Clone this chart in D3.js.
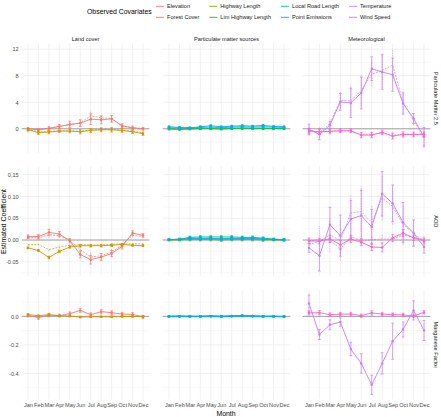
<!DOCTYPE html>
<html>
<head>
<meta charset="utf-8">
<script src="https://cdn.jsdelivr.net/npm/d3@7"></script>
<style>
  body { margin: 0; background: #fff; }
  svg { display: block; font-family: "Liberation Sans", Arial, sans-serif; }
</style>
</head>
<body>
<svg id="chart" width="441" height="417"></svg>
<script>
// ---- data ----
const months = ["Jan","Feb","Mar","Apr","May","Jun","Jul","Aug","Sep","Oct","Nov","Dec"];
const columns = ["Land cover", "Particulate matter sources", "Meteorological"];
const rows = ["Particulate Matter 2.5", "AOD", "Manganese Factor"];
const covariates = ["Elevation","Forest Cover","Highway Length","Lim Highway Length",
                    "Local Road Length","Point Emissions","Temperature","Wind Speed"];
const covColors = ["#F8766D","#CD9600","#7CAE00","#00BE67","#00BFC4","#00A9FF","#C77CFF","#FF61CC"];
const covColumn = [0, 0, 1, 1, 1, 1, 2, 2];

const yTicks = [[0, 4, 8, 12], [-0.05, 0, 0.05, 0.10, 0.15], [-0.4, -0.2, 0.0]];
const yTickLabels = [["0","4","8","12"], ["-0.05","0.00","0.05","0.10","0.15"], ["-0.4","-0.2","0.0"]];

// Particulate Matter 2.5
const pmElevation     = [0, -0.15, 0.05, 0.35, 0.65, 0.85, 1.45, 1.35, 1.5, 0.45, 0.15, 0];
const pmElevationErr  = [0.2, 0.2, 0.25, 0.3, 0.5, 0.5, 0.8, 0.6, 0.5, 0.3, 0.25, 0.2];
const pmElevationAlt  = [0.05, -0.1, 0.1, 0.4, 0.6, 0.9, 1.95, 1.65, 1.55, 0.4, 0.15, 0];
const pmForest        = [-0.15, -0.6, -0.5, -0.35, -0.35, -0.45, -0.25, -0.15, -0.15, -0.25, -0.45, -0.75];
const pmForestErr     = [0.2, 0.25, 0.25, 0.2, 0.25, 0.3, 0.3, 0.3, 0.35, 0.3, 0.25, 0.25];
const pmForestAlt     = [-0.1, -0.45, -0.4, -0.3, -0.3, -0.35, -0.2, -0.1, -0.1, -0.2, -0.35, -0.6];
const pmHighway       = [0.02, 0, 0.03, 0.05, 0.04, 0, 0.05, 0.08, 0.06, 0.05, 0.04, 0.03];
const pmLimHighway    = [-0.05, -0.1, -0.05, 0, 0.02, -0.05, 0.05, 0.1, 0.05, 0.08, 0.05, 0.02];
const pmLocalRoad     = [0.15, 0.1, 0.1, 0.2, 0.25, 0.15, 0.25, 0.3, 0.25, 0.3, 0.25, 0.2];
const pmPointEm       = [0.3, 0.2, 0.15, 0.3, 0.45, 0.3, 0.4, 0.45, 0.4, 0.5, 0.35, 0.3];
const pmSourceErr     = [0.12, 0.12, 0.1, 0.12, 0.15, 0.12, 0.12, 0.15, 0.12, 0.15, 0.12, 0.12];
const pmTemperature   = [-0.1, -0.85, 0.55, 4.05, 3.9, 5.4, 9.05, 8.55, 8.15, 3.8, 1.55, -1.2];
const pmTemperatureErr= [0.8, 0.8, 0.6, 1.25, 2.2, 2.4, 1.8, 2.6, 2.5, 1.6, 0.75, 1.4];
const pmTemperatureAlt= [-0.2, -0.6, 0.8, 4.3, 4.2, 5.8, 8.2, 8.8, 9.6, 4.0, 1.3, -1.5];
const pmWind          = [-0.35, -0.45, -0.4, -0.3, -0.3, -0.95, -0.95, -0.55, -1.1, -0.85, -0.85, -0.85];
const pmWindErr       = [0.35, 0.4, 0.35, 0.3, 0.3, 0.4, 0.4, 0.35, 0.45, 0.4, 0.35, 0.35];
const pmWindAlt       = [-0.3, -0.5, -0.35, -0.3, -0.35, -0.9, -0.85, -0.6, -1.0, -0.8, -0.85, -0.8];

// AOD
const aodElevation     = [0.0076, 0.008, 0.0175, 0.0137, -0.0015, -0.033, -0.045, -0.039, -0.031, -0.0145, 0.016, 0.0107];
const aodElevationErr  = [0.004, 0.005, 0.007, 0.006, 0.005, 0.008, 0.01, 0.008, 0.007, 0.006, 0.005, 0.004];
const aodElevationAlt  = [0.006, 0.0046, 0.012, 0.01, -0.001, -0.022, -0.039, -0.036, -0.028, -0.0107, 0.011, 0.008];
const aodForest        = [-0.018, -0.024, -0.04, -0.026, -0.016, -0.013, -0.013, -0.013, -0.012, -0.01, -0.012, -0.013];
const aodForestErr     = [0.002, 0.002, 0.003, 0.003, 0.003, 0.003, 0.003, 0.003, 0.003, 0.002, 0.002, 0.002];
const aodForestAlt     = [-0.011, -0.01, -0.022, -0.016, -0.012, -0.011, -0.011, -0.011, -0.01, -0.009, -0.009, -0.0085];
const aodHighway       = [0, 0, 0.001, 0.001, 0.001, 0, 0.001, 0.001, 0.001, 0, 0, 0];
const aodLimHighway    = [0.0005, 0.002, 0.006, 0.007, 0.007, 0.007, 0.007, 0.006, 0.006, 0.004, 0.002, 0.0005];
const aodLocalRoad     = [0.001, 0.002, 0.004, 0.004, 0.004, 0.003, 0.004, 0.004, 0.004, 0.003, 0.002, 0.001];
const aodPointEm       = [0.001, 0.001, 0.003, 0.003, 0.003, 0.002, 0.003, 0.003, 0.003, 0.002, 0.001, 0];
const aodSourceErr     = [0.002, 0.002, 0.003, 0.003, 0.003, 0.003, 0.003, 0.003, 0.003, 0.003, 0.002, 0.002];
const aodTemperature   = [-0.018, -0.036, 0.035, 0.01, 0.048, 0.056, 0.03, 0.106, 0.084, 0.04, 0.016, -0.016];
const aodTemperatureErr= [0.01, 0.035, 0.04, 0.047, 0.043, 0.058, 0.04, 0.051, 0.042, 0.046, 0.03, 0.014];
const aodTemperatureAlt= [-0.01, -0.003, 0.012, -0.001, 0.062, 0.065, 0.04, 0.096, 0.077, 0.035, 0.015, -0.003];
const aodWind          = [-0.0015, -0.003, 0.003, -0.011, 0.002, -0.005, -0.016, -0.017, 0.005, 0.016, 0.005, -0.0015];
const aodWindErr       = [0.006, 0.006, 0.008, 0.01, 0.008, 0.008, 0.008, 0.01, 0.008, 0.008, 0.006, 0.006];
const aodWindAlt       = [-0.003, 0.001, 0.001, -0.022, 0.008, -0.003, 0.001, 0.002, 0.002, 0.012, 0.006, 0.001];

// Manganese Factor
const mnElevation     = [0.007, -0.009, 0.009, 0.005, 0.019, 0.042, 0.012, 0.033, 0.026, 0.016, 0.014, -0.005];
const mnElevationErr  = [0.012, 0.012, 0.012, 0.01, 0.012, 0.014, 0.012, 0.014, 0.012, 0.012, 0.012, 0.01];
const mnForest        = [0.012, 0.005, 0.012, 0.005, 0.002, -0.005, -0.003, -0.003, -0.003, -0.001, -0.001, 0];
const mnForestErr     = [0.005, 0.005, 0.005, 0.005, 0.005, 0.005, 0.005, 0.005, 0.005, 0.005, 0.005, 0.005];
const mnHighway       = [0, 0, 0, 0, 0.001, 0, 0.001, 0.002, 0.001, 0, 0, 0];
const mnLimHighway    = [0, 0.001, 0, 0, 0.002, 0, 0.002, 0.004, 0.002, 0, 0, -0.001];
const mnLocalRoad     = [0, 0.002, 0, 0, 0.002, 0, 0.003, 0.005, 0.003, 0, 0.001, -0.002];
const mnPointEm       = [-0.001, 0.001, -0.001, 0, 0.001, -0.001, 0.002, 0.004, 0.002, -0.001, 0, -0.002];
const mnSourceErr     = [0.003, 0.003, 0.003, 0.003, 0.003, 0.003, 0.003, 0.004, 0.003, 0.003, 0.003, 0.003];
const mnTemperature   = [0.09, -0.127, -0.059, -0.04, -0.229, -0.33, -0.48, -0.33, -0.174, -0.092, 0.042, -0.099];
const mnTemperatureErr= [0.06, 0.035, 0.035, 0.03, 0.047, 0.068, 0.068, 0.075, 0.126, 0.053, 0.067, 0.07];
const mnWind          = [0.024, 0.026, 0.012, 0.016, 0.016, 0.005, 0.024, 0.016, 0.012, 0.01, 0.003, 0.028];
const mnWindErr       = [0.015, 0.015, 0.012, 0.012, 0.012, 0.012, 0.015, 0.012, 0.012, 0.012, 0.012, 0.012];

// one entry per drawn series: row, covariate index, estimate, error, optional dashed estimate
const series = [
  [0, 0, pmElevation, pmElevationErr, pmElevationAlt],
  [0, 1, pmForest, pmForestErr, pmForestAlt],
  [0, 2, pmHighway, pmSourceErr, null],
  [0, 3, pmLimHighway, pmSourceErr, null],
  [0, 4, pmLocalRoad, pmSourceErr, null],
  [0, 5, pmPointEm, pmSourceErr, null],
  [0, 6, pmTemperature, pmTemperatureErr, pmTemperatureAlt],
  [0, 7, pmWind, pmWindErr, pmWindAlt],
  [1, 0, aodElevation, aodElevationErr, aodElevationAlt],
  [1, 1, aodForest, aodForestErr, aodForestAlt],
  [1, 2, aodHighway, aodSourceErr, null],
  [1, 3, aodLimHighway, aodSourceErr, null],
  [1, 4, aodLocalRoad, aodSourceErr, null],
  [1, 5, aodPointEm, aodSourceErr, null],
  [1, 6, aodTemperature, aodTemperatureErr, aodTemperatureAlt],
  [1, 7, aodWind, aodWindErr, aodWindAlt],
  [2, 0, mnElevation, mnElevationErr, null],
  [2, 1, mnForest, mnForestErr, null],
  [2, 2, mnHighway, mnSourceErr, null],
  [2, 3, mnLimHighway, mnSourceErr, null],
  [2, 4, mnLocalRoad, mnSourceErr, null],
  [2, 5, mnPointEm, mnSourceErr, null],
  [2, 6, mnTemperature, mnTemperatureErr, null],
  [2, 7, mnWind, mnWindErr, null]
].map(([row, cov, est, err, alt]) => ({ row, cov, est, err, alt }));

// ---- layout ----
const panelW = 127.6, panelH = 109.5;
const panelX = [21.7, 162.7, 302.7];
const panelY = [43.5, 166.5, 290];

const svg = d3.select("#chart");

const x = d3.scalePoint().domain(months).range([0, panelW]).padding(0.6);

// one y scale per row (free y), ggplot-style 5% expansion
const yScales = rows.map((_, r) => {
  const vals = [0];
  series.filter(s => s.row === r).forEach(s => {
    [s.est, s.alt].forEach(a => {
      if (!a) return;
      a.forEach((v, i) => { vals.push(v - s.err[i], v + s.err[i]); });
    });
  });
  const [lo, hi] = d3.extent(vals);
  const pad = (hi - lo) * 0.05;
  return d3.scaleLinear().domain([lo - pad, hi + pad]).range([panelH, 0]);
});

const line = y => d3.line().x((d, i) => x(months[i])).y(d => y(d));

rows.forEach((rowName, r) => {
  const y = yScales[r];
  const major = yTicks[r];
  const step = major[1] - major[0];
  const minor = [];
  for (let v = major[0] - step / 2; v <= y.domain()[1]; v += step) {
    if (v >= y.domain()[0]) minor.push(v);
  }

  columns.forEach((colName, c) => {
    const g = svg.append("g").attr("transform", `translate(${panelX[c]},${panelY[r]})`);

    // grid
    g.selectAll(".minor").data(minor).join("line")
      .attr("x1", 0).attr("x2", panelW)
      .attr("y1", d => y(d)).attr("y2", d => y(d))
      .attr("stroke", "#EBEBEB").attr("stroke-width", 0.35);
    g.selectAll(".hmajor").data(major).join("line")
      .attr("x1", 0).attr("x2", panelW)
      .attr("y1", d => y(d)).attr("y2", d => y(d))
      .attr("stroke", "#EBEBEB").attr("stroke-width", 0.7);
    g.selectAll(".vmajor").data(months).join("line")
      .attr("x1", d => x(d)).attr("x2", d => x(d))
      .attr("y1", 0).attr("y2", panelH)
      .attr("stroke", "#EBEBEB").attr("stroke-width", 0.7);

    // zero reference
    g.append("line")
      .attr("x1", 0).attr("x2", panelW)
      .attr("y1", y(0)).attr("y2", y(0))
      .attr("stroke", "#858585").attr("stroke-width", 0.75);

    const cap = x.step() * 0.13;
    series.filter(s => s.row === r && covColumn[s.cov] === c).forEach(s => {
      const col = covColors[s.cov];
      const sg = g.append("g");

      if (s.alt) {
        sg.append("path").datum(s.alt)
          .attr("d", line(y)).attr("fill", "none")
          .attr("stroke", col).attr("stroke-width", 0.7)
          .attr("stroke-dasharray", "2,1.2");
        s.alt.forEach((v, i) => {
          const xx = x(months[i]);
          sg.append("line")
            .attr("x1", xx).attr("x2", xx)
            .attr("y1", y(v - s.err[i])).attr("y2", y(v + s.err[i]))
            .attr("stroke", col).attr("stroke-width", 0.55)
            .attr("stroke-dasharray", "1.5,1");
        });
      }

      sg.append("path").datum(s.est)
        .attr("d", line(y)).attr("fill", "none")
        .attr("stroke", col).attr("stroke-width", 0.9);

      s.est.forEach((v, i) => {
        const xx = x(months[i]);
        const y0 = y(v - s.err[i]), y1 = y(v + s.err[i]);
        sg.append("path")
          .attr("d", `M${xx - cap},${y0}H${xx + cap}M${xx},${y0}V${y1}M${xx - cap},${y1}H${xx + cap}`)
          .attr("fill", "none").attr("stroke", col).attr("stroke-width", 0.7);
        sg.append("circle")
          .attr("cx", xx).attr("cy", y(v)).attr("r", 1.2)
          .attr("fill", col);
      });
    });

    // top strips
    if (r === 0) {
      svg.append("text")
        .attr("x", panelX[c] + panelW / 2).attr("y", panelY[0] - 3)
        .attr("text-anchor", "middle")
        .attr("font-size", 5.6).attr("fill", "#1A1A1A")
        .text(colName);
    }

    // x axis on the bottom row
    if (r === rows.length - 1) {
      const ax = svg.append("g")
        .attr("transform", `translate(${panelX[c]},${panelY[r] + panelH})`)
        .call(d3.axisBottom(x).tickSize(0).tickPadding(3.5));
      ax.select(".domain").remove();
      ax.selectAll("text").attr("font-size", 5.6).attr("fill", "#4D4D4D")
        .attr("font-family", "Liberation Sans, Arial, sans-serif");
    }
  });

  // y axis on the left column
  const ay = svg.append("g")
    .attr("transform", `translate(${panelX[0]},${panelY[r]})`)
    .call(d3.axisLeft(y).tickValues(major).tickSize(0).tickPadding(3)
      .tickFormat((d, i) => yTickLabels[r][i]));
  ay.select(".domain").remove();
  ay.selectAll("text").attr("font-size", 5.6).attr("fill", "#4D4D4D")
    .attr("font-family", "Liberation Sans, Arial, sans-serif");

  // right strip
  svg.append("text")
    .attr("transform", `translate(${panelX[2] + panelW + 3.5},${panelY[r] + panelH / 2}) rotate(90)`)
    .attr("text-anchor", "middle")
    .attr("font-size", 5.6).attr("fill", "#1A1A1A")
    .text(rowName);
});

// axis titles
svg.append("text")
  .attr("x", (panelX[0] + panelX[2] + panelW) / 2).attr("y", 415.5)
  .attr("text-anchor", "middle").attr("font-size", 6.9)
  .text("Month");
svg.append("text")
  .attr("transform", `translate(6,${(panelY[0] + panelY[2] + panelH) / 2}) rotate(-90)`)
  .attr("text-anchor", "middle").attr("font-size", 6.9)
  .text("Estimated Coefficient");

// legend (two rows, filled column-wise)
const legend = svg.append("g");
legend.append("text")
  .attr("x", 87).attr("y", 14.4)
  .attr("font-size", 6.9)
  .text("Observed Covariates");

let colX = 156;
for (let c = 0; c < 4; c++) {
  let widest = 0;
  for (let r = 0; r < 2; r++) {
    const k = c * 2 + r;
    const yy = 6.3 + r * 11;
    legend.append("line")
      .attr("x1", colX).attr("x2", colX + 8)
      .attr("y1", yy).attr("y2", yy)
      .attr("stroke", covColors[k]).attr("stroke-width", 0.9);
    const t = legend.append("text")
      .attr("x", colX + 11).attr("y", yy + 2)
      .attr("font-size", 5.6).attr("fill", "#1A1A1A")
      .text(covariates[k]);
    widest = Math.max(widest, t.node().getComputedTextLength());
  }
  colX += 11 + widest + 10;
}
</script>
</body>
</html>
